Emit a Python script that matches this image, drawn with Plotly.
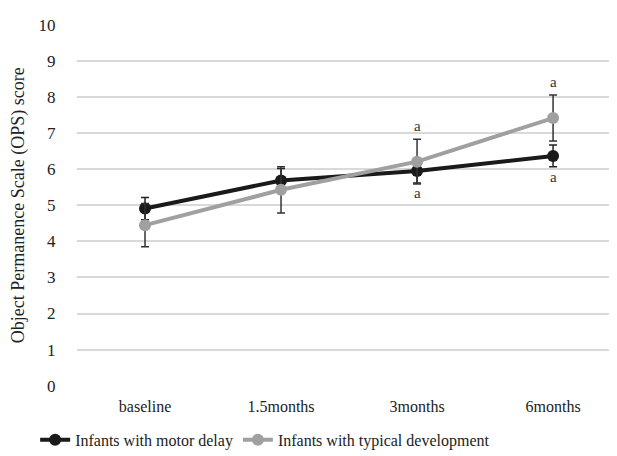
import plotly.graph_objects as go

categories = ["baseline", "1.5months", "3months", "6months"]
motor_delay = [4.91, 5.69, 5.95, 6.37]
motor_delay_err = [0.31, 0.33, 0.33, 0.30]
typical_dev = [4.45, 5.43, 6.21, 7.42]
typical_dev_err = [0.60, 0.64, 0.62, 0.64]
sig_above_typical = ["", "", "a", "a"]
sig_below_motor = ["", "", "a", "a"]
y_ticks = list(range(0, 11))

FONT = "Liberation Serif"
x_idx = list(range(len(categories)))

fig = go.Figure()
fig.add_trace(go.Scatter(
    x=x_idx, y=motor_delay, mode="lines+markers", name="Infants with motor delay",
    line=dict(color="#1a1a1a", width=4), marker=dict(color="#1a1a1a", size=12),
    error_y=dict(type="data", array=motor_delay_err, visible=True, color="#222222",
                 thickness=1.5, width=4),
))
fig.add_trace(go.Scatter(
    x=x_idx, y=typical_dev, mode="lines+markers", name="Infants with typical development",
    line=dict(color="#a0a0a0", width=4), marker=dict(color="#a0a0a0", size=12),
    error_y=dict(type="data", array=typical_dev_err, visible=True, color="#333333",
                 thickness=1.5, width=4),
))

for i, lab in enumerate(sig_above_typical):
    if lab:
        fig.add_annotation(x=i, y=typical_dev[i] + typical_dev_err[i], text=lab,
                           showarrow=False, yanchor="bottom", yshift=3,
                           font=dict(family=FONT, size=15, color="#333333"))
for i, lab in enumerate(sig_below_motor):
    if lab:
        fig.add_annotation(x=i, y=motor_delay[i] - motor_delay_err[i], text=lab,
                           showarrow=False, yanchor="top", yshift=0,
                           font=dict(family=FONT, size=15, color="#333333"))

fig.update_layout(
    width=617, height=456,
    margin=dict(l=67, r=8, t=15, b=76),
    plot_bgcolor="white", paper_bgcolor="white",
    font=dict(family=FONT, color="#222222", size=16),
    xaxis=dict(tickmode="array", tickvals=x_idx, ticktext=categories,
               range=[-0.5, 3.47], showgrid=False, zeroline=False, showline=False,
               ticks="outside", ticklen=6, tickcolor="rgba(0,0,0,0)",
               tickfont=dict(family=FONT, size=16, color="#222222")),
    yaxis=dict(range=[0, 10], tickmode="array", tickvals=y_ticks,
               showgrid=True, gridcolor="#d9d9d9", gridwidth=1.5, zeroline=False,
               showline=False, ticks="outside", ticklen=17, tickcolor="rgba(0,0,0,0)",
               tickfont=dict(family=FONT, size=17, color="#222222"),
               title=dict(text="Object Permanence Scale (OPS) score",
                          font=dict(family=FONT, size=18, color="#222222"), standoff=10)),
    legend=dict(orientation="h", xref="container", yref="container",
                x=0.044, y=0.053, xanchor="left", yanchor="middle",
                font=dict(family=FONT, size=16, color="#222222"),
                itemwidth=30),
    showlegend=True,
)

fig.write_html("out.html")
